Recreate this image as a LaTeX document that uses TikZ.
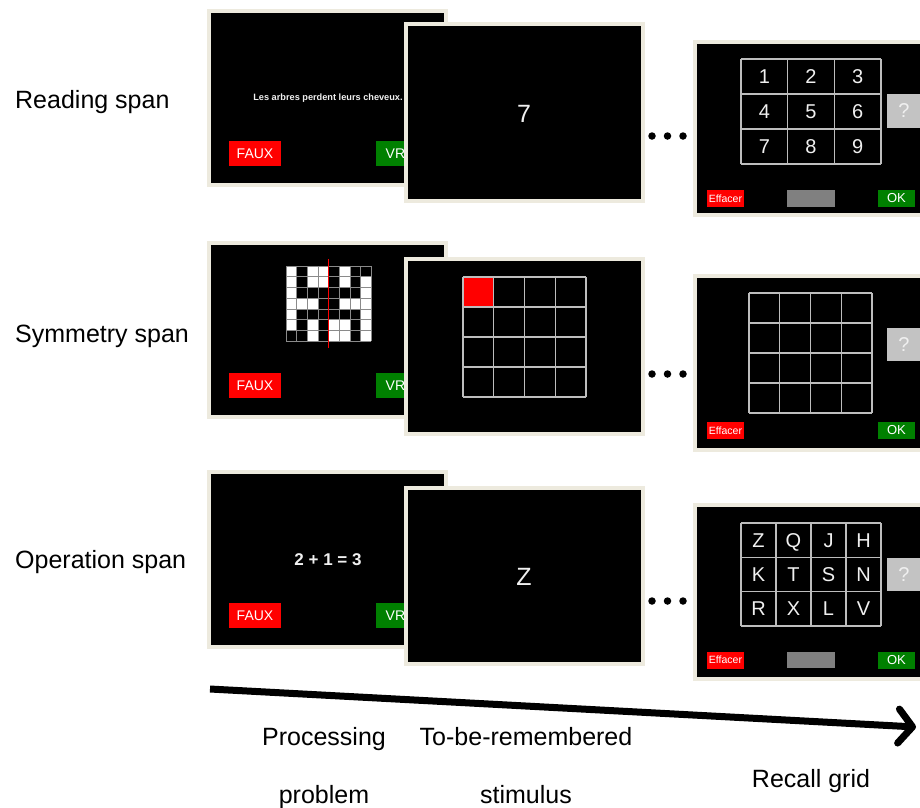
\documentclass[tikz,border=0pt]{standalone}
\usepackage{fontspec}
\setmainfont{Liberation Sans}
\usetikzlibrary{arrows.meta}
\definecolor{cream}{HTML}{EDEADE}
\definecolor{btnred}{HTML}{FF0000}
\definecolor{btngreen}{HTML}{008000}
\definecolor{barGray}{HTML}{808080}
\definecolor{qGray}{HTML}{C3C3C3}
\definecolor{lineGray}{HTML}{BDBDBD}
\definecolor{patGray}{HTML}{8A8A8A}
\definecolor{scrText}{HTML}{F0F0F0}
\newcommand\fs[1]{\fontsize{#1}{#1}\selectfont}
% style, x0, y0, cols, rows, w, h
\newcommand\cellgrid[7]{%
  \foreach \gi in {0,...,#4} \draw[#1] ({#2+\gi*#6},#3) -- ({#2+\gi*#6},{#3+#5*#7});
  \foreach \gj in {0,...,#5} \draw[#1] (#2,{#3+\gj*#7}) -- ({#2+#4*#6},{#3+\gj*#7});
}
\begin{document}
\begin{tikzpicture}[x=1pt,y=-1pt,
  screenbox/.style={fill=black,draw=cream,line width=3.2pt},
  gridline/.style={draw=lineGray,line width=1.2pt},
  patline/.style={draw=patGray,line width=0.5pt},
  btnbase/.style={inner sep=0pt,text=white,minimum width=52pt,minimum height=25pt,font=\fs{14}},
  fauxbtn/.style={btnbase,fill=btnred},
  vraibtn/.style={btnbase,fill=btngreen},
  effbtn/.style={inner sep=0pt,fill=btnred,text=white,minimum width=37pt,minimum height=17pt,font=\fs{10.5}},
  okbtn/.style={inner sep=0pt,fill=btngreen,text=white,minimum width=37pt,minimum height=17pt,font=\fs{13}},
  graybar/.style={fill=barGray},
  qbox/.style={fill=qGray},
  qmark/.style={inner sep=0pt,text=scrText,font=\fs{20}},
  celltext/.style={inner sep=0pt,text=scrText,font=\fs{20}},
  bigtext/.style={inner sep=0pt,text=scrText,font=\fs{25}},
  rowlabel/.style={anchor=base west,inner sep=0pt,font=\fs{25}},
  axislabel/.style={anchor=base,inner sep=0pt,font=\fs{25}},
  dot/.style={circle,fill=black,inner sep=0pt,minimum size=7.5pt}
]
\useasboundingbox (0,0) rectangle (920,807);
\clip (0,0) rectangle (920,807);

% ---------- row labels ----------
\node[rowlabel] (lread) at (15,108) {Reading span};
\node[rowlabel] (lsym) at (15,342) {Symmetry span};
\node[rowlabel] (lop) at (15,568) {Operation span};

% ---------- row 1: reading span ----------
\draw[screenbox] (209,11) rectangle (446,185);
\node[inner sep=0pt,text=scrText,font=\bfseries\fs{9.2}] (sent) at (328,98) {Les arbres perdent leurs cheveux.};
\node[fauxbtn] (faux1) at (255,153.5) {FAUX};
\node[vraibtn] (vrai1) at (402,153.5) {VRAI};
\draw[screenbox] (406,24) rectangle (643,201);
\node[bigtext] (stim1) at (524,114) {7};
\node[dot] (d11) at (652,136) {};
\node[dot] (d12) at (667.5,136) {};
\node[dot] (d13) at (683,136) {};
\draw[screenbox] (695,42) rectangle (935,215);
\cellgrid{gridline}{741}{59}{3}{3}{46.667}{35}
\foreach \t [count=\k from 0] in {1,2,3,4,5,6,7,8,9} {
  \pgfmathsetmacro\cx{741+23.333+mod(\k,3)*46.667}
  \pgfmathsetmacro\cy{59+17.5+floor(\k/3)*35}
  \node[celltext] (dg\t) at (\cx,\cy) {\t};
}
\fill[qbox] (887,94) rectangle (925,128);
\node[qmark] (q1) at (904,111) {?};
\node[effbtn] (eff1) at (725.5,198.5) {Effacer};
\fill[graybar] (787,190) rectangle (835,207);
\node[okbtn] (ok1) at (896.5,198.5) {OK};

% ---------- row 2: symmetry span ----------
\draw[screenbox] (209,243) rectangle (446,417);
\fill[black] (286,266) rectangle (371,341);
\foreach \prow [count=\r from 0] in {{1,0,1,1,0,1,0,0},{1,0,1,1,0,1,0,1},{1,0,0,0,0,0,0,1},{1,1,1,0,0,1,1,1},{1,0,0,0,0,0,0,1},{1,0,1,0,1,1,0,1},{0,0,1,0,1,1,0,1}} {
  \foreach \v [count=\c from 0] in \prow {
    \ifnum\v=1\relax
      \fill[white] ({286+\c*10.625},{266+\r*10.714}) rectangle ++(10.625,10.714);
    \fi
  }
}
\cellgrid{patline}{286}{266}{8}{7}{10.625}{10.714}
\draw[red,line width=1.3pt] (328.5,259) -- (328.5,348);
\node[fauxbtn] (faux2) at (255,385.5) {FAUX};
\node[vraibtn] (vrai2) at (402,385.5) {VRAI};
\draw[screenbox] (406,259) rectangle (643,434);
\fill[btnred] (463,277) rectangle (493.75,307);
\cellgrid{gridline}{463}{277}{4}{4}{30.75}{30}
\node[dot] (d21) at (652,374) {};
\node[dot] (d22) at (667.5,374) {};
\node[dot] (d23) at (683,374) {};
\draw[screenbox] (695,276) rectangle (935,450);
\cellgrid{gridline}{749}{293}{4}{4}{30.75}{30}
\fill[qbox] (887,328) rectangle (925,361);
\node[qmark] (q2) at (904,344.5) {?};
\node[effbtn] (eff2) at (725.5,430.5) {Effacer};
\node[okbtn] (ok2) at (896.5,430.5) {OK};

% ---------- row 3: operation span ----------
\draw[screenbox] (209,472) rectangle (446,647);
\node[inner sep=0pt,text=scrText,font=\bfseries\fs{17}] (eq) at (328,560) {2 + 1 = 3};
\node[fauxbtn] (faux3) at (255,615.5) {FAUX};
\node[vraibtn] (vrai3) at (402,615.5) {VRAI};
\draw[screenbox] (406,488) rectangle (643,664);
\node[bigtext] (stim3) at (524,577) {Z};
\node[dot] (d31) at (652,601) {};
\node[dot] (d32) at (667.5,601) {};
\node[dot] (d33) at (683,601) {};
\draw[screenbox] (695,505) rectangle (935,679);
\cellgrid{gridline}{741}{523}{4}{3}{35}{34.333}
\foreach \t [count=\k from 0] in {Z,Q,J,H,K,T,S,N,R,X,L,V} {
  \pgfmathsetmacro\cx{741+17.5+mod(\k,4)*35}
  \pgfmathsetmacro\cy{523+17.167+floor(\k/4)*34.333}
  \node[celltext,text depth=0pt] (lt\t) at (\cx,\cy) {\t};
}
\fill[qbox] (887,558) rectangle (925,591);
\node[qmark] (q3) at (904,574.5) {?};
\node[effbtn] (eff3) at (725.5,660) {Effacer};
\fill[graybar] (787,652) rectangle (835,668);
\node[okbtn] (ok3) at (896.5,660) {OK};

% ---------- time arrow ----------
\coordinate (arrS) at (210,689);
\coordinate (arrE) at (916,727);
\draw[line width=7pt,-{Straight Barb[length=14pt,width=34pt,round]}] (arrS) -- (arrE);

% ---------- bottom labels ----------
\node[axislabel] (proc1) at (324,745) {Processing};
\node[axislabel] (proc2) at (324,803) {problem};
\node[axislabel] (tbr1) at (526,745) {To-be-remembered};
\node[axislabel] (tbr2) at (526,803) {stimulus};
\node[axislabel] (recall) at (811,787) {Recall grid};
\end{tikzpicture}
\end{document}
